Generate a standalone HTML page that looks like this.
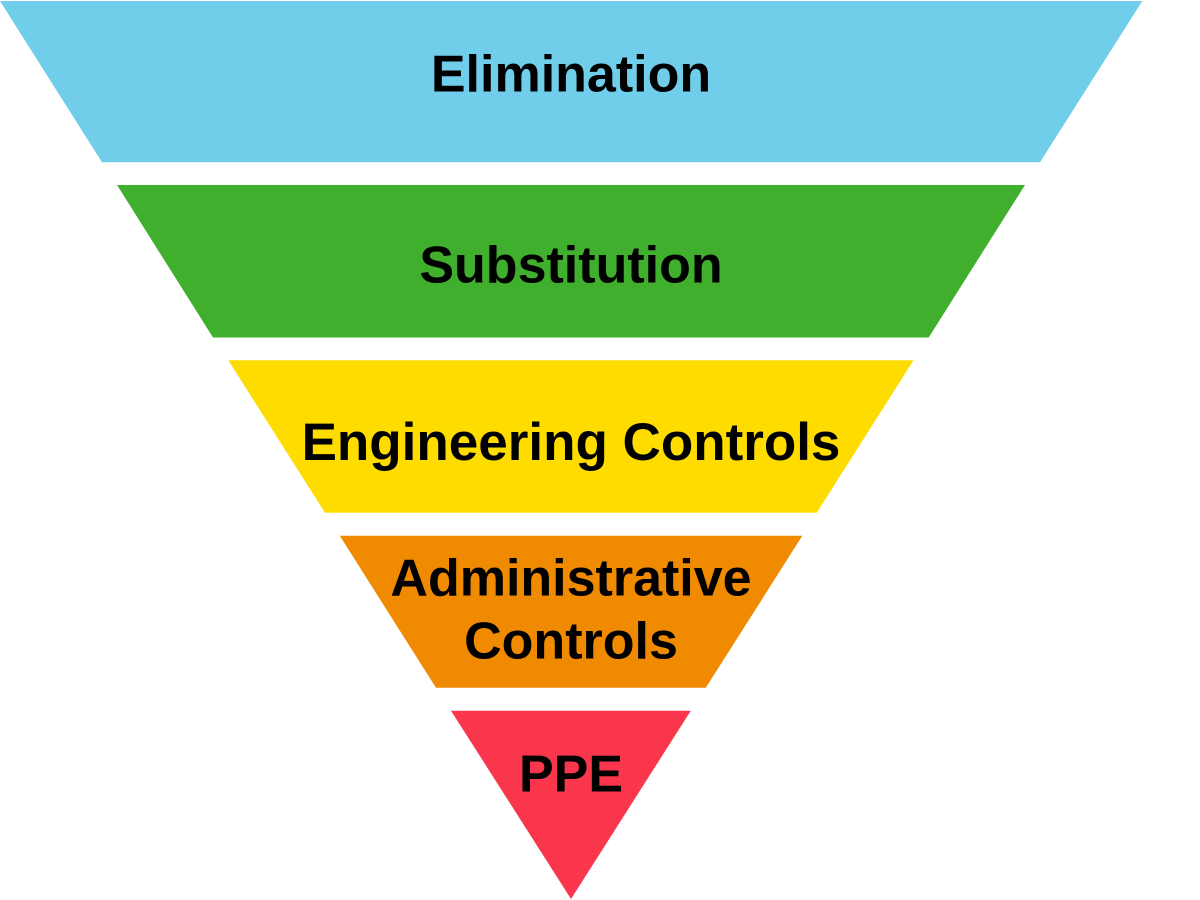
<!DOCTYPE html>
<html>
<head>
<meta charset="utf-8">
<style>
  html, body { margin: 0; padding: 0; background: #ffffff; }
  body { width: 1200px; height: 900px; overflow: hidden; }
  svg { display: block; }
  text { font-family: "Liberation Sans", Arial, sans-serif; font-weight: bold; font-size: 52px; fill: #000000; }
</style>
</head>
<body>
<svg width="1200" height="900" viewBox="0 0 1200 900" xmlns="http://www.w3.org/2000/svg">
  <polygon points="0,1 1142.3,1 1040,162.3 102,162.3" fill="#70CEEA"/>
  <polygon points="117,185 1025,185 928.7,337.5 213,337.5" fill="#40AF2E"/>
  <polygon points="228.3,360.3 913.5,360.3 816.7,512.8 325,512.8" fill="#FEDC00"/>
  <polygon points="339.8,535.8 802.3,535.8 705.8,687.8 436,687.8" fill="#F08A00"/>
  <polygon points="451,710.7 690.8,710.7 571,899" fill="#F9364B"/>

  <text x="571" y="91.7" text-anchor="middle">Elimination</text>
  <text x="571" y="282.3" text-anchor="middle">Substitution</text>
  <text x="571" y="460" text-anchor="middle" style="font-size:53px">Engineering Controls</text>
  <text x="571" y="595.7" text-anchor="middle">Administrative</text>
  <text x="571" y="658.3" text-anchor="middle">Controls</text>
  <text x="571" y="791.7" text-anchor="middle">PPE</text>
</svg>
</body>
</html>
